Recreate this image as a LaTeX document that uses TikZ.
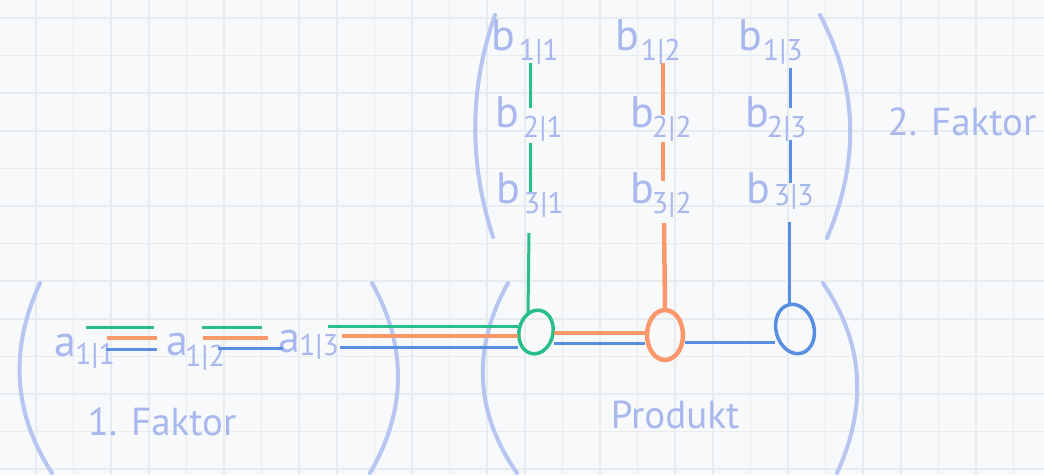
\documentclass[tikz,border=0pt]{standalone}
\usepackage{fontspec}
\setmainfont{PT Sans}
\usetikzlibrary{shapes.geometric}
\definecolor{paper}{RGB}{247,249,250}
\definecolor{gridc}{RGB}{232,236,239}
\definecolor{ink}{RGB}{168,184,238}
\definecolor{parc}{RGB}{182,197,242}
\definecolor{gr}{RGB}{40,190,140}
\definecolor{og}{RGB}{250,152,108}
\definecolor{bl}{RGB}{88,142,226}
\newcommand\ent[4][-10pt]{#3\kern#2\raisebox{#1}{\fontsize{30}{30}\selectfont #4}}
\tikzset{
  entry/.style={anchor=base west, inner sep=0pt, text=ink, font=\fontsize{44}{44}\selectfont},
  label/.style={inner sep=0pt, text=ink, font=\fontsize{39}{39}\selectfont},
  paren/.style={draw=parc, line width=4pt, line cap=round},
  gl/.style={draw=gr, line width=3pt},
  ol/.style={draw=og, line width=4.5pt},
  bline/.style={draw=bl, line width=3pt},
  knot/.style={ellipse, inner sep=0pt, line width=3.5pt},
}
\begin{document}
\begin{tikzpicture}[x=1pt,y=-1pt]
\fill[paper] (0,0) rectangle (1044,475);
\useasboundingbox (0,0) rectangle (1044,475);
% grid
\foreach \i in {0,...,27} \draw[gridc,line width=1.5pt] (36+37.6*\i,0) -- ++(0,475);
\foreach \j in {0,...,12} \draw[gridc,line width=1.5pt] (0,18+37.6*\j) -- ++(1044,0);
% parentheses
\draw[paren] (40,283) .. controls (11,346) and (11,410) .. (52,473);
\draw[paren] (372,283) .. controls (407,346) and (407,410) .. (370,473);
\draw[paren] (508,283) .. controls (473,346) and (473,410) .. (517,473);
\draw[paren] (823,283) .. controls (866,346) and (866,410) .. (837,473);
\draw[paren] (495,15) .. controls (469,89) and (469,163) .. (493,237);
\draw[paren] (820,15) .. controls (859,89) and (859,163) .. (827,238);
% entries of factor 1
\node[entry] (a11) at (54,356) {\ent[-8pt]{-1pt}{a}{1|1}};
\node[entry] (a12) at (166,355) {\ent[-11pt]{-3pt}{a}{1|2}};
\node[entry] (a13) at (278,352) {\ent[-3pt]{-1pt}{a}{1|3}};
% entries of factor 2
\node[entry] (b11) at (491,50) {\ent{4pt}{b}{1|1}};
\node[entry] (b12) at (615,50) {\ent{2pt}{b}{1|2}};
\node[entry] (b13) at (738,50) {\ent{1pt}{b}{1|3}};
\node[entry] (b21) at (495,127) {\ent{4pt}{b}{2|1}};
\node[entry] (b22) at (630,127) {\ent{-2pt}{b}{2|2}};
\node[entry] (b23) at (745,127) {\ent{-2pt}{b}{2|3}};
\node[entry] (b31) at (496,203) {\ent{4pt}{b}{3|1}};
\node[entry] (b32) at (630,203) {\ent{-2pt}{b}{3|2}};
\node[entry] (b33) at (746,203) {\ent[-2pt]{4pt}{b}{3|3}};
% labels
\node[label] (f1) at (162,422) {1. Faktor};
\node[label] (pr) at (675,415) {Produkt};
\node[label] (f2) at (962,122) {2. Faktor};
% product knots
\node[knot, draw=gr, minimum width=34pt, minimum height=44pt, rotate=-12] (c1) at (536,332) {};
\node[knot, draw=og, line width=4.5pt, minimum width=36pt, minimum height=50pt] (c2) at (665,335) {};
\node[knot, draw=bl, minimum width=38pt, minimum height=50pt, rotate=15] (c3) at (795,329) {};
% row lines of factor 1
\draw[gl] (86,327) -- (154,327);
\draw[ol] (107,338) -- (157,338);
\draw[bline] (106,349) -- (157,349);
\draw[gl] (202,327) -- (262,327);
\draw[ol] (203,338) -- (268,338);
\draw[bline] (218,348) -- (283,348);
\draw[gl] (328,326) -- (c1.west |- 0,326);
\draw[ol] (342,336) -- (c1.west |- 0,336);
\draw[bline] (340,347) -- (c1.west |- 0,347);
\draw[ol] (c1.east |- 0,333) -- (c2.west |- 0,333);
\draw[bline] (c1.east |- 0,343) -- (c2.west |- 0,343);
\draw[bline] (c2.east |- 0,342) -- (c3.west |- 0,342);
% column lines of factor 2
\draw[gl] (530,63) -- (530,108);
\draw[gl] (530,143) -- (530,192);
\draw[gl] (529,233) -- (528,313);
\draw[ol] (663,63) -- (663,115);
\draw[ol] (663,142) -- (663,181);
\draw[ol] (664,223) -- (665,0 |- c2.north);
\draw[bline] (790,68) -- (790,108);
\draw[bline] (790,140) -- (790,183);
\draw[bline] (789,222) -- (789,305);
\end{tikzpicture}
\end{document}
